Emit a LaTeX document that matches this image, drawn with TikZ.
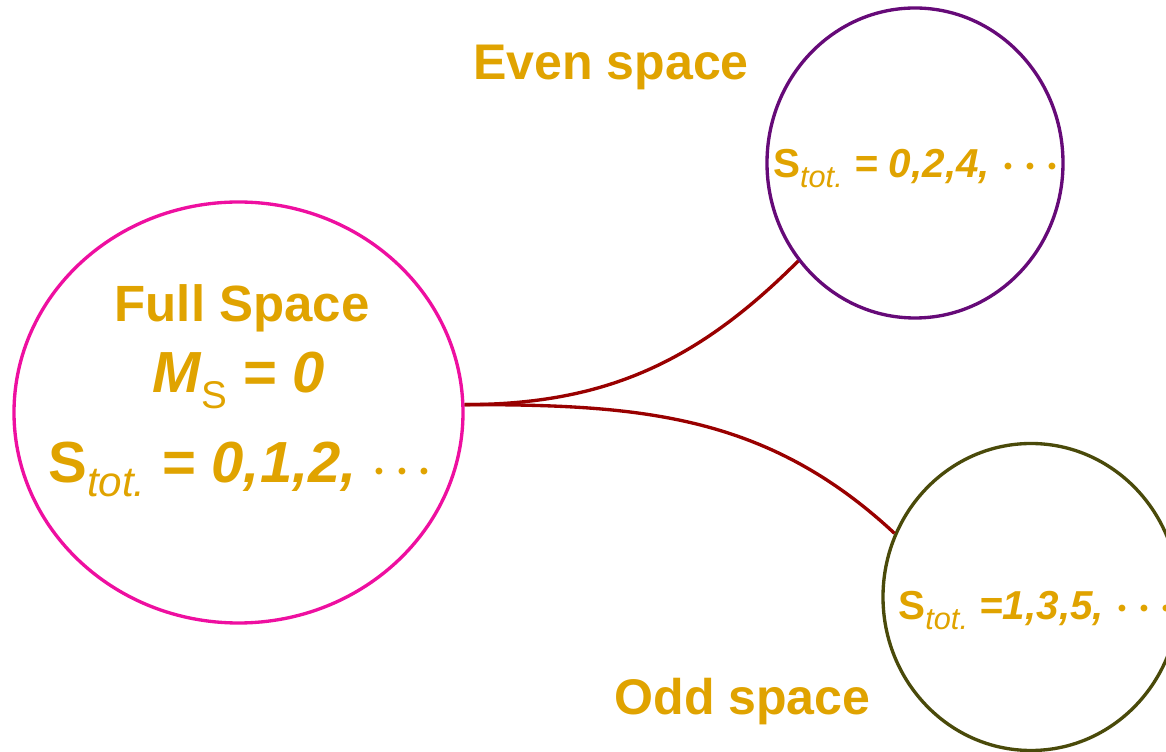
\documentclass[tikz,border=0pt]{standalone}
\usepackage{fontspec}
\setmainfont{Liberation Sans}
\usetikzlibrary{shapes.geometric}

\definecolor{cGold}{HTML}{E0A300}
\definecolor{cFull}{HTML}{EE0FA0}
\definecolor{cEven}{HTML}{660A78}
\definecolor{cOdd}{HTML}{4A4A0A}
\definecolor{cLink}{HTML}{990000}
\providecommand{\stotsub}[1]{%
  {\upshape S}\raisebox{-0.24em}{\fontsize{#1}{#1}\selectfont\mdseries\itshape tot.}%
}
\providecommand{\bdots}{{\boldmath$\cdots$}}

\begin{document}
\begin{tikzpicture}[
    spacebox/.style={ellipse, draw=#1, line width=1.9pt, inner sep=0pt},
    golden/.style={text=cGold, font=\fontsize{#1}{#1}\selectfont\bfseries,
                   inner sep=0pt, anchor=base},
    link/.style={cLink, line width=1.9pt}
  ]
  \useasboundingbox (0,0) rectangle (23.32,15.04);

  % --------------------------------------------------------------------------
  % Spaces
  % --------------------------------------------------------------------------
  \node[spacebox=cFull, minimum width=8.98cm, minimum height=8.42cm] (full) at (4.77,6.79) {};
  \node[spacebox=cEven, minimum width=5.92cm, minimum height=6.20cm] (even) at (18.30,11.78) {};
  \node[spacebox=cOdd,  minimum width=5.92cm, minimum height=6.14cm] (odd)  at (20.62,3.10) {};

  % --------------------------------------------------------------------------
  % Texts
  % --------------------------------------------------------------------------
  \node[golden=29pt] (fullname) at (4.84,8.60) {Full Space};
  \node[golden=33pt] (fullms) at (4.78,7.18)
    {\itshape M\raisebox{-0.26em}{\fontsize{22pt}{22pt}\selectfont\mdseries\upshape S} = 0};
  \node[golden=33pt] (fullstot) at (4.80,5.38)
    {\itshape \stotsub{24pt} = 0,1,2, \bdots};

  \node[golden=28.5pt] (evenname) at (12.22,13.44) {Even space};
  \node[golden=23pt] (evenstot) at (18.33,11.48)
    {\itshape \stotsub{17.5pt} = 0,2,4, \bdots};

  \node[golden=28.5pt] (oddname) at (14.85,0.74) {Odd space};
  \node[golden=23pt, anchor=base west] (oddstot) at (17.96,2.64)
    {\itshape \stotsub{17.5pt} =1,3,5, \bdots};

  % --------------------------------------------------------------------------
  % Links from the full space to the two subspaces
  % --------------------------------------------------------------------------
  \draw[link] (full.2) to[out=0, in=225] (even.220);
  \draw[link] (full.2) to[out=0, in=137] (odd.155);

\end{tikzpicture}
\end{document}
